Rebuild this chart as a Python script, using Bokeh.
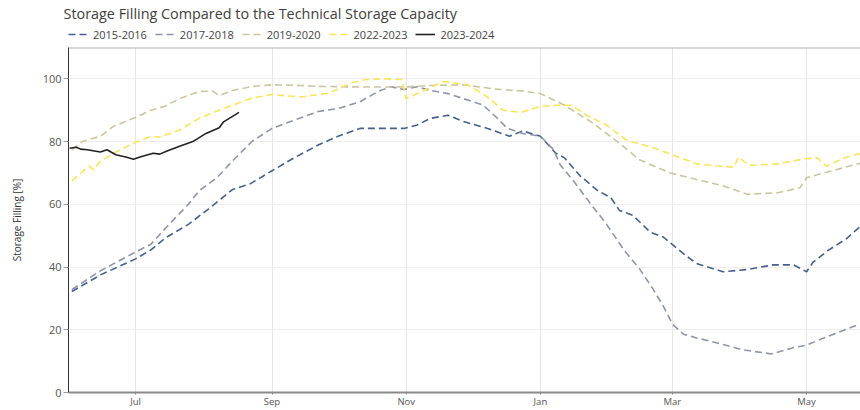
import pandas as pd
from bokeh.plotting import figure
from bokeh.layouts import column
from bokeh.models import (Range1d, Legend, LegendItem, MonthsTicker, DatetimeTickFormatter,
                          FixedTicker, Span)
from bokeh.embed import file_html
from bokeh.resources import INLINE

# ---------------- data (reference year Jun 2023 - May 2024) ----------------
title_text = "Storage Filling Compared to the Technical Storage Capacity"
y_label = "Storage Filling [%]"
series_names = ["2015-2016", "2017-2018", "2019-2020", "2022-2023", "2023-2024"]

d_2015 = ["2023-06-02", "2023-06-15", "2023-07-01", "2023-07-08", "2023-07-15", "2023-07-25",
          "2023-08-04", "2023-08-14", "2023-08-22", "2023-09-01", "2023-09-11", "2023-09-22",
          "2023-10-01", "2023-10-11", "2023-10-31", "2023-11-06", "2023-11-12", "2023-11-20",
          "2023-11-27", "2023-12-08", "2023-12-18", "2023-12-24", "2024-01-01", "2024-01-08",
          "2024-01-12", "2024-01-19", "2024-01-27", "2024-02-02", "2024-02-06", "2024-02-12",
          "2024-02-20", "2024-02-26", "2024-03-03", "2024-03-08", "2024-03-12", "2024-03-24",
          "2024-04-04", "2024-04-16", "2024-04-25", "2024-05-01", "2024-05-04", "2024-05-11",
          "2024-05-19", "2024-05-26"]
v_2015 = [32.2, 37.5, 42.6, 45.5, 49.5, 53.6, 59.0, 64.7, 66.5, 70.7, 74.8, 78.9,
          81.7, 84.2, 84.2, 85.3, 87.4, 88.4, 86.4, 84.2, 81.7, 83.4, 81.7, 76.3,
          74.8, 69.1, 64.4, 62.1, 58.0, 56.5, 51.1, 49.5, 46.0, 43.2, 41.1, 38.5,
          39.2, 40.7, 40.7, 38.5, 41.6, 45.4, 49.0, 53.3]

d_2017 = ["2023-06-02", "2023-06-15", "2023-07-01", "2023-07-08", "2023-07-15", "2023-07-25",
          "2023-07-30", "2023-08-07", "2023-08-14", "2023-08-23", "2023-09-01", "2023-09-11",
          "2023-09-22", "2023-10-01", "2023-10-11", "2023-10-19", "2023-10-25", "2023-10-31",
          "2023-11-06", "2023-11-12", "2023-11-20", "2023-11-27", "2023-12-06", "2023-12-11",
          "2023-12-17", "2023-12-24", "2024-01-01", "2024-01-07", "2024-01-10", "2024-01-16",
          "2024-01-24", "2024-01-31", "2024-02-08", "2024-02-15", "2024-02-21", "2024-02-26",
          "2024-03-01", "2024-03-06", "2024-03-12", "2024-03-23", "2024-04-02", "2024-04-15",
          "2024-04-25", "2024-05-01", "2024-05-11", "2024-05-25"]
v_2017 = [32.8, 38.8, 44.8, 47.3, 52.7, 60.0, 64.4, 68.5, 73.8, 80.1, 84.2, 86.8,
          89.6, 90.5, 92.7, 95.9, 97.5, 96.6, 97.5, 96.3, 95.3, 93.7, 91.6, 88.4,
          84.2, 82.6, 81.7, 77.4, 72.6, 67.5, 60.0, 53.7, 45.4, 39.5, 33.2, 27.4,
          21.8, 18.6, 17.4, 15.5, 13.6, 12.3, 14.3, 15.1, 18.0, 21.8]

d_2019 = ["2023-06-02", "2023-06-07", "2023-06-15", "2023-06-21", "2023-07-01", "2023-07-08",
          "2023-07-14", "2023-07-21", "2023-07-30", "2023-08-05", "2023-08-08", "2023-08-14",
          "2023-08-23", "2023-09-01", "2023-09-14", "2023-09-22", "2023-10-11", "2023-10-31",
          "2023-11-12", "2023-11-27", "2023-12-11", "2023-12-24", "2024-01-01", "2024-01-12",
          "2024-01-24", "2024-02-05", "2024-02-15", "2024-02-29", "2024-03-12", "2024-03-24",
          "2024-04-04", "2024-04-18", "2024-04-28", "2024-05-01", "2024-05-12", "2024-05-26"]
v_2019 = [77.4, 80.1, 81.7, 84.9, 87.7, 90.0, 91.2, 93.7, 96.0, 96.1, 94.7, 96.3,
          97.6, 98.1, 97.9, 97.6, 97.4, 97.4, 97.9, 98.1, 96.8, 96.1, 95.3, 91.6,
          86.3, 80.0, 74.2, 70.0, 67.9, 65.9, 63.2, 63.7, 65.3, 68.5, 70.6, 73.2]

d_2022 = ["2023-06-02", "2023-06-10", "2023-06-12", "2023-06-15", "2023-06-23", "2023-07-01",
          "2023-07-08", "2023-07-12", "2023-07-21", "2023-07-30", "2023-08-08", "2023-08-18",
          "2023-08-23", "2023-09-01", "2023-09-14", "2023-09-27", "2023-10-01", "2023-10-07",
          "2023-10-13", "2023-10-22", "2023-10-30", "2023-11-01", "2023-11-09", "2023-11-18",
          "2023-11-29", "2023-12-08", "2023-12-15", "2023-12-23", "2023-12-31", "2024-01-06",
          "2024-01-15", "2024-01-22", "2024-01-31", "2024-02-09", "2024-02-21", "2024-03-01",
          "2024-03-12", "2024-03-21", "2024-03-29", "2024-03-31", "2024-04-05", "2024-04-18",
          "2024-04-30", "2024-05-06", "2024-05-10", "2024-05-18", "2024-05-26"]
v_2022 = [67.5, 72.2, 71.0, 73.8, 77.0, 79.8, 81.7, 81.4, 83.7, 87.4, 90.0, 92.6,
          93.9, 95.0, 94.2, 95.5, 96.8, 98.7, 99.7, 100.0, 99.8, 93.7, 96.3, 99.2,
          98.1, 94.2, 90.0, 89.3, 91.0, 91.6, 91.6, 88.4, 85.3, 80.5, 78.1, 75.8,
          72.9, 72.3, 71.8, 75.0, 72.4, 72.9, 74.5, 74.8, 72.1, 74.8, 76.3]

d_2023 = ["2023-06-01", "2023-06-04", "2023-06-06", "2023-06-09", "2023-06-15", "2023-06-18",
          "2023-06-22", "2023-06-27", "2023-06-30", "2023-07-03", "2023-07-09", "2023-07-12",
          "2023-07-15", "2023-07-21", "2023-07-27", "2023-08-02", "2023-08-08", "2023-08-10",
          "2023-08-17"]
v_2023 = [77.9, 78.2, 77.6, 77.4, 76.7, 77.4, 75.8, 75.0, 74.4, 75.1, 76.3, 76.0,
          76.9, 78.5, 80.0, 82.6, 84.4, 86.3, 89.3]

x_start = "2023-05-31 12:00"
x_end = "2024-05-25 12:00"
y_start, y_end = 0, 110
y_ticks = [0, 20, 40, 60, 80, 100]

colors = ["#45608a", "#8e95a9", "#cdc5a0", "#f8e55a", "#222222"]
dashes = ["7 4", "7 4", "7 4", "7 4", "solid"]

FONT = "Open Sans"
all_d = [d_2015, d_2017, d_2019, d_2022, d_2023]
all_v = [v_2015, v_2017, v_2019, v_2022, v_2023]

# ---------------- header figure: title + legend ----------------
head = figure(width=860, height=43, output_backend="svg", toolbar_location=None,
              x_range=Range1d(0, 1), y_range=Range1d(0, 1),
              min_border_left=68, min_border_right=0, min_border_top=4, min_border_bottom=0)
head.axis.visible = False
head.grid.visible = False
head.outline_line_color = None
head.title.text = title_text
head.title.text_font = FONT
head.title.text_font_size = "14.4px"
head.title.text_font_style = "normal"
head.title.text_color = "#404040"
head.title.align = "left"
head.title.offset = -5
head.title.standoff = 3

items = []
for name, d, v, c, dash in zip(series_names, all_d, all_v, colors, dashes):
    # series drawn in the header only to give the legend its glyphs (outside header ranges)
    r = head.line(pd.to_datetime(d), v, line_color=c, line_width=1.6, line_dash=dash)
    items.append(LegendItem(label=name, renderers=[r]))
legend = Legend(items=items, orientation="horizontal", location="top_left",
                label_text_font=FONT, label_text_font_size="11px", label_text_color="#444",
                glyph_width=20, label_standoff=5, spacing=8,
                padding=0, margin=0, border_line_color=None, background_fill_alpha=0)
head.add_layout(legend, "center")

# ---------------- main figure ----------------
p = figure(width=860, height=367, x_axis_type="datetime", output_backend="svg",
           toolbar_location=None,
           x_range=Range1d(pd.Timestamp(x_start), pd.Timestamp(x_end)),
           y_range=Range1d(y_start, y_end),
           min_border_left=68, min_border_right=0, min_border_top=4, min_border_bottom=0)
p.outline_line_color = None

for d, v, c, dash in zip(all_d, all_v, colors, dashes):
    p.line(pd.to_datetime(d), v, line_color=c, line_width=1.6, line_dash=dash)

# top frame border
p.add_layout(Span(location=y_end, dimension="width", line_color="#b0b0b0", line_width=2))

xa = p.xaxis[0]
xa.ticker = MonthsTicker(months=[0, 2, 4, 6, 8, 10])
xa.formatter = DatetimeTickFormatter(months="%b", days="%b", years="%b")
xa.axis_line_color = "#8a8a8a"
xa.axis_line_width = 2
xa.major_tick_line_color = "#8a8a8a"
xa.major_tick_out = 2
xa.major_tick_in = 0
xa.minor_tick_out = 0
xa.minor_tick_in = 0
xa.major_label_standoff = 0
xa.major_label_text_font = FONT
xa.major_label_text_font_size = "9.5px"
xa.major_label_text_color = "#555"

ya = p.yaxis[0]
ya.ticker = FixedTicker(ticks=y_ticks)
ya.axis_label = y_label
ya.axis_label_text_font = FONT
ya.axis_label_text_font_size = "10px"
ya.axis_label_text_font_style = "normal"
ya.axis_label_text_color = "#333"
ya.axis_label_standoff = 16
ya.axis_line_color = "#333333"
ya.major_tick_line_color = "#999999"
ya.major_tick_out = 5
ya.major_tick_in = 0
ya.minor_tick_out = 0
ya.minor_tick_in = 0
ya.major_label_standoff = 2
ya.major_label_text_font = FONT
ya.major_label_text_font_size = "11px"
ya.major_label_text_color = "#555"

p.xgrid.grid_line_color = "#e6e6e6"
p.ygrid.grid_line_color = "#eeeeee"

layout = column(head, p, spacing=0)
open("out.html", "w").write(file_html(layout, INLINE))
